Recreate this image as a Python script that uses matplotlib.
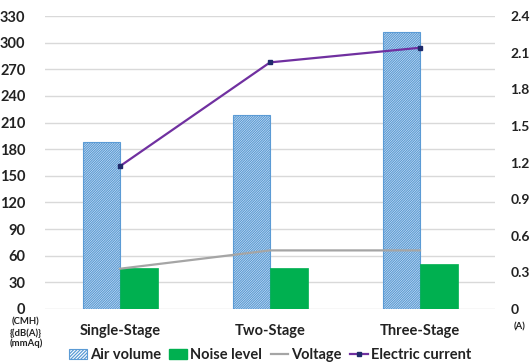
import matplotlib
matplotlib.use("Agg")
import matplotlib.pyplot as plt
from matplotlib.patches import Patch
from matplotlib.lines import Line2D
import numpy as np

plt.rcParams['font.family'] = ['Lato', 'DejaVu Sans']
plt.rcParams['hatch.linewidth'] = 0.9

categories = ["Single-Stage", "Two-Stage", "Three-Stage"]
air_volume = [188, 219, 312]
noise_level = [46, 46, 51]
voltage = [0.33, 0.48, 0.48]
electric_current = [1.17, 2.02, 2.14]

left_ticks = [0, 30, 60, 90, 120, 150, 180, 210, 240, 270, 300, 330]
right_ticks = [0, 0.3, 0.6, 0.9, 1.2, 1.5, 1.8, 2.1, 2.4]
right_tick_labels = ["0", "0.3", "0.6", "0.9", "1.2", "1.5", "1.8", "2.1", "2.4"]

blue = "#5B9BD5"
green = "#00B050"
gray = "#A5A5A5"
purple = "#7030A0"
navy = "#1F2A6B"
text_color = "#222222"

fig = plt.figure(figsize=(5.31, 3.64), dpi=100)
ax = fig.add_axes([45/531, 1-309/364, 450/531, 293/364])
ax2 = ax.twinx()

x = np.arange(len(categories))
w = 0.25
ax.bar(x - w/2, air_volume, width=w, facecolor="white", edgecolor=blue,
       hatch="/" * 14, linewidth=0.8, zorder=3)
ax.bar(x + w/2, noise_level, width=w, color=green, edgecolor=green,
       linewidth=0.5, zorder=3)

ax.set_xlim(-0.5, 2.5)
ax.set_ylim(0, 330)
ax.set_yticks(left_ticks)
ax.yaxis.grid(True, color="#D9D9D9", linewidth=1.0, zorder=0)
ax.set_axisbelow(True)
for s in ax.spines.values():
    s.set_visible(False)
for s in ax2.spines.values():
    s.set_visible(False)
ax.tick_params(axis="y", length=0, pad=14, labelsize=10.5)
ax.tick_params(axis="x", length=0, pad=11, labelsize=10.5)
ax.set_xticks(x)
ax.set_xticklabels(categories)
for lbl in ax.get_xticklabels() + ax.get_yticklabels():
    lbl.set_fontweight("bold")
    lbl.set_color(text_color)

ax2.plot(x, voltage, color=gray, linewidth=1.6, zorder=4)
ax2.plot(x, electric_current, color=purple, linewidth=1.6, marker="s",
         markersize=3.5, markerfacecolor=navy, markeredgecolor=navy, zorder=5)
ax2.set_ylim(0, 2.4)
ax2.set_yticks(right_ticks)
ax2.set_yticklabels(right_tick_labels)
ax2.tick_params(axis="y", length=0, pad=11, labelsize=10)
for lbl in ax2.get_yticklabels():
    lbl.set_fontweight("bold")
    lbl.set_color(text_color)

fig.text(26/531, 1-333/364, "(CMH)\n{(dB(A)}\n(mmAq)", ha="center", va="center",
         fontsize=6.8, fontweight="bold", color=text_color, linespacing=1.15)
fig.text(520/531, 1-327/364, "(A)", ha="center", va="center",
         fontsize=6.8, fontweight="bold", color=text_color)

handles = [
    Patch(facecolor="white", edgecolor=blue, hatch="/" * 10, linewidth=0.8),
    Patch(facecolor=green, edgecolor=green),
    Line2D([0], [0], color=gray, linewidth=1.6),
    Line2D([0], [0], color=purple, linewidth=1.6, marker="s", markersize=3.5,
           markerfacecolor=navy, markeredgecolor=navy),
]
labels = ["Air volume", "Noise level", "Voltage", "Electric current"]
leg = fig.legend(handles, labels, loc="center", bbox_to_anchor=(270/531, 1-355/364),
                 ncol=4, frameon=False, fontsize=10.5, handlelength=1.2,
                 handletextpad=0.2, columnspacing=0.6, borderaxespad=0)
for t in leg.get_texts():
    t.set_fontweight("bold")
    t.set_color(text_color)

fig.savefig("out.png", dpi=100)
